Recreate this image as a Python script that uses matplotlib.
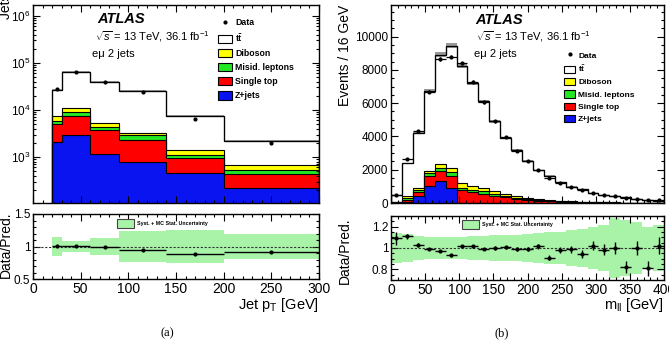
import numpy as np
import matplotlib
matplotlib.use('Agg')
import matplotlib.pyplot as plt
from matplotlib.patches import Patch
from matplotlib.lines import Line2D
from matplotlib.ticker import MultipleLocator, LogLocator, NullFormatter

plt.rcParams['font.family'] = ['Liberation Sans', 'DejaVu Sans']
plt.rcParams['mathtext.fontset'] = 'custom'
plt.rcParams['mathtext.rm'] = 'Liberation Sans'
plt.rcParams['mathtext.it'] = 'Liberation Sans:italic'
plt.rcParams['mathtext.bf'] = 'Liberation Sans:bold'

# (a) jet pT, stacked from bottom: Z+jets, single top, misid, diboson, ttbar
pt_edges = [20, 30, 60, 90, 140, 200, 300]
pt_zjets = [2100, 2950, 1170, 780, 445, 217]
pt_stop = [2900, 4550, 2530, 1520, 495, 213]
pt_misid = [900, 1600, 700, 560, 180, 95]
pt_diboson = [1700, 2000, 800, 440, 260, 155]
pt_ttbar = [19400, 52900, 33800, 21700, 6020, 1520]
pt_ratio = [1.01, 1.01, 1.0, 0.95, 0.885, 0.92]
pt_unc = [0.15, 0.09, 0.125, 0.235, 0.255, 0.185]

# (b) m_ll, 16 GeV bins
mll_edges = [0, 16, 32, 48, 64, 80, 96, 112, 128, 144, 160, 176, 192, 208,
             224, 240, 256, 272, 288, 304, 320, 336, 352, 368, 384, 400]
mll_zjets = [20, 40, 400, 1000, 1300, 900, 30, 20, 15, 10, 8, 6, 5, 4, 3, 3,
             2, 2, 1, 1, 1, 1, 1, 1, 1]
mll_stop = [30, 160, 250, 620, 620, 750, 740, 630, 555, 440, 352, 264, 195,
            146, 117, 87, 68, 53, 41, 31, 24, 18, 14, 11, 8]
mll_misid = [20, 80, 150, 160, 200, 200, 130, 150, 130, 100, 90, 60, 50, 40,
             30, 25, 20, 15, 13, 10, 8, 6, 5, 4, 3]
mll_diboson = [20, 120, 100, 120, 200, 250, 300, 250, 200, 150, 120, 70, 50,
               40, 30, 25, 20, 15, 10, 8, 7, 5, 4, 3, 3]
mll_ttbar = [375, 1990, 3320, 4860, 6600, 7360, 7030, 6140, 5210, 4200, 3360,
             2780, 2220, 1740, 1470, 1110, 870, 745, 545, 440, 360, 310, 236,
             181, 135]
mll_ratio = [1.09, 1.11, 1.03, 0.99, 0.97, 0.93, 1.02, 1.015, 0.99, 1.0, 1.005,
             0.99, 0.99, 1.015, 0.91, 0.98, 0.99, 0.94, 1.02, 0.985, 1.0, 0.82,
             1.0, 0.81, 1.02]
mll_ratio_err = [0.06, 0.025, 0.02, 0.012, 0.011, 0.01, 0.011, 0.012, 0.013,
                 0.015, 0.016, 0.018, 0.02, 0.022, 0.026, 0.03, 0.033, 0.037,
                 0.042, 0.048, 0.053, 0.058, 0.065, 0.072, 0.08]
mll_unc = [0.14, 0.13, 0.11, 0.10, 0.10, 0.10, 0.10, 0.11, 0.11, 0.12, 0.12,
           0.12, 0.13, 0.14, 0.15, 0.15, 0.17, 0.18, 0.20, 0.22, 0.28, 0.26,
           0.24, 0.20, 0.22]

labels = ['Data', r'$\mathbf{t\bar{t}}$', 'Diboson', 'Misid. leptons',
          'Single top', 'Z+jets']
colors = ['#0a14f0', '#ff0000', '#22e822', '#ffff00', 'white']  # bottom -> top
band_col = '#a8f3a8'

W, H = 669, 347
fig = plt.figure(figsize=(W / 100, H / 100), dpi=100)


def box(x0, y0, x1, y1):
    # pixel box -> figure fraction
    return [x0 / W, 1 - y1 / H, (x1 - x0) / W, (y1 - y0) / H]


def style(ax):
    ax.tick_params(which='both', direction='in', top=True, right=True,
                   labelsize=8.5, width=0.8, pad=2)
    ax.tick_params(which='major', length=5)
    ax.tick_params(which='minor', length=2.5)
    for s in ax.spines.values():
        s.set_linewidth(1)


def draw_stack(ax, edges, comps, base, err):
    cum = np.cumsum(np.array(comps, dtype=float), axis=0)
    for i in range(len(comps) - 1, -1, -1):
        ax.stairs(cum[i], edges, baseline=base, fill=True, color=colors[i])
        ax.stairs(cum[i], edges, baseline=base, color='black', lw=0.8)
    total = cum[-1]
    ax.stairs(total * (1 + err), edges, baseline=total * (1 - err), fill=True,
              color='#999999')
    ax.stairs(total, edges, baseline=base, color='black', lw=0.9)
    return total


def legend(ax, x, y, fs, hl, hh, ls):
    h = [Line2D([], [], marker='o', ms=2, color='k', ls='none')]
    h += [Patch(facecolor=c, edgecolor='black', lw=0.8) for c in colors[::-1]]
    ax.legend(h, labels, loc='upper left', bbox_to_anchor=(x / W, 1 - y / H),
              bbox_transform=fig.transFigure, frameon=False,
              prop={'size': fs, 'weight': 'bold'}, handlelength=hl,
              handleheight=hh, labelspacing=ls, handletextpad=0.35,
              borderpad=0, borderaxespad=0)


def ratio_band(ax, edges, unc, x, y):
    unc = np.array(unc)
    ax.stairs(1 + unc, edges, baseline=1 - unc, fill=True, color=band_col)
    ax.axhline(1, ls=(0, (2, 1.5)), color='#333333', lw=0.8)
    ax.legend([Patch(facecolor=band_col, edgecolor='#444444', lw=0.8)],
              ['Syst. + MC Stat. Uncertainty'], loc='upper left',
              bbox_to_anchor=(x / W, 1 - y / H), bbox_transform=fig.transFigure,
              frameon=False, prop={'size': 3.8, 'weight': 'bold'},
              handlelength=3.2, handleheight=2.3, handletextpad=0.6,
              borderpad=0, borderaxespad=0)


# ---------------- (a) ----------------
ax1 = fig.add_axes(box(33, 5, 319, 203))
ax1.set_yscale('log')
tot_pt = draw_stack(ax1, pt_edges,
                    [pt_zjets, pt_stop, pt_misid, pt_diboson, pt_ttbar], 1, 0.05)
pe = np.array(pt_edges, dtype=float)
pc = 0.5 * (pe[1:] + pe[:-1])
ax1.plot(pc, tot_pt * np.array(pt_ratio), 'o', ms=2, color='k')
ax1.set_xlim(0, 300)
ax1.set_ylim(105, 1.7e6)
ax1.yaxis.set_major_locator(LogLocator(base=10, numticks=10))
ax1.yaxis.set_minor_locator(LogLocator(base=10, subs=np.arange(2, 10), numticks=10))
ax1.yaxis.set_minor_formatter(NullFormatter())
ax1.xaxis.set_major_locator(MultipleLocator(50))
ax1.xaxis.set_minor_locator(MultipleLocator(10))
ax1.tick_params(labelbottom=False)
style(ax1)
legend(ax1, 218, 18, 6.3, 1.6, 1.1, 0.56)

fig.text(97 / W, 1 - 19 / H, 'ATLAS', fontsize=10.5, weight='bold',
         style='italic', va='center')
fig.text(95 / W, 1 - 37 / H, r'$\sqrt{s}$ = 13 TeV, 36.1 fb$^{-1}$',
         fontsize=8, va='center')
fig.text(92 / W, 1 - 54 / H, 'eμ 2 jets', fontsize=8, va='center')
fig.text(6 / W, 1 - 19 / H, 'Jets / bin', fontsize=10, rotation=90,
         ha='center', va='bottom')

ax1r = fig.add_axes(box(33, 214, 319, 279))
ratio_band(ax1r, pt_edges, pt_unc, 117, 219)
ax1r.errorbar(pc, pt_ratio, xerr=0.5 * (pe[1:] - pe[:-1]), yerr=0.005,
              fmt='o', ms=2, color='k', elinewidth=1, capsize=0)
ax1r.set_xlim(0, 300)
ax1r.set_ylim(0.5, 1.5)
ax1r.set_yticks([0.5, 1, 1.5], ['0.5', '1', '1.5'])
ax1r.yaxis.set_minor_locator(MultipleLocator(0.1))
ax1r.xaxis.set_major_locator(MultipleLocator(50))
ax1r.xaxis.set_minor_locator(MultipleLocator(10))
style(ax1r)
ax1r.tick_params(axis='x', labelsize=10)
fig.text(6 / W, 1 - 212 / H, 'Data/Pred.', fontsize=10, rotation=90,
         ha='center', va='top')
fig.text(319 / W, 1 - 305 / H, r'Jet p$_{\mathrm{T}}$ [GeV]', fontsize=10.5,
         ha='right', va='center')
fig.text(167 / W, 1 - 333 / H, '(a)', fontsize=9, family='Liberation Serif',
         ha='center', va='center')

# ---------------- (b) ----------------
ax2 = fig.add_axes(box(391, 5, 664, 203))
tot_m = draw_stack(ax2, mll_edges,
                   [mll_zjets, mll_stop, mll_misid, mll_diboson, mll_ttbar], 0,
                   0.015)
me = np.array(mll_edges, dtype=float)
mc = 0.5 * (me[1:] + me[:-1])
data_m = tot_m * np.array(mll_ratio)
ax2.errorbar(mc, data_m, xerr=8, yerr=np.sqrt(data_m), fmt='o', ms=2,
             color='k', elinewidth=0.9, capsize=0)
ax2.set_xlim(0, 400)
ax2.set_ylim(0, 11900)
ax2.yaxis.set_major_locator(MultipleLocator(2000))
ax2.yaxis.set_minor_locator(MultipleLocator(500))
ax2.xaxis.set_major_locator(MultipleLocator(50))
ax2.xaxis.set_minor_locator(MultipleLocator(10))
ax2.tick_params(labelbottom=False)
style(ax2)
legend(ax2, 564, 51, 6.0, 1.35, 1.0, 0.45)

fig.text(475 / W, 1 - 20 / H, 'ATLAS', fontsize=10.5, weight='bold',
         style='italic', va='center')
fig.text(476 / W, 1 - 37 / H, r'$\sqrt{s}$ = 13 TeV, 36.1 fb$^{-1}$',
         fontsize=8, va='center')
fig.text(474 / W, 1 - 54 / H, 'eμ 2 jets', fontsize=8, va='center')
fig.text(345 / W, 1 - 5 / H, 'Events / 16 GeV', fontsize=10, rotation=90,
         ha='center', va='top')

ax2r = fig.add_axes(box(391, 216, 664, 280))
ratio_band(ax2r, mll_edges, mll_unc, 462, 220)
ax2r.errorbar(mc, mll_ratio, xerr=8, yerr=mll_ratio_err, fmt='o', ms=2,
              color='k', elinewidth=1, capsize=0)
ax2r.set_xlim(0, 400)
ax2r.set_ylim(0.7, 1.3)
ax2r.set_yticks([0.8, 1, 1.2], ['0.8', '1', '1.2'])
ax2r.yaxis.set_minor_locator(MultipleLocator(0.05))
ax2r.xaxis.set_major_locator(MultipleLocator(50))
ax2r.xaxis.set_minor_locator(MultipleLocator(10))
style(ax2r)
ax2r.tick_params(axis='x', labelsize=10)
fig.text(345 / W, 1 - 218 / H, 'Data/Pred.', fontsize=10, rotation=90,
         ha='center', va='top')
fig.text(664 / W, 1 - 305 / H, r'm$_{\mathrm{ll}}$ [GeV]', fontsize=10.5,
         ha='right', va='center')
fig.text(502 / W, 1 - 333 / H, '(b)', fontsize=9, family='Liberation Serif',
         ha='center', va='center')

fig.savefig('out.png', dpi=100)
